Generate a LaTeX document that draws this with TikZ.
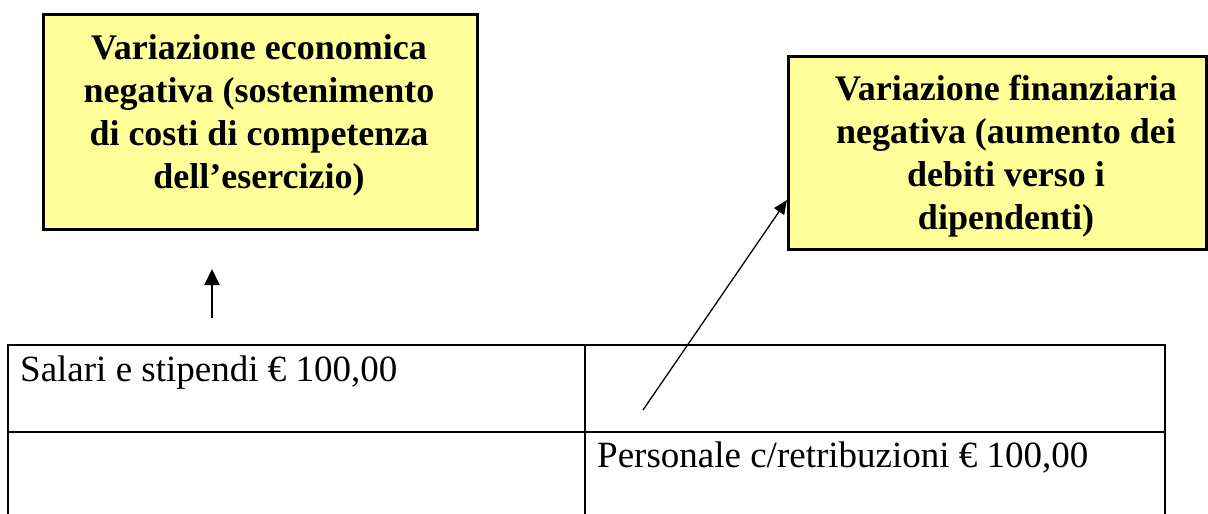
\documentclass[tikz,border=0pt]{standalone}
\usepackage{fontspec}
\setmainfont{Liberation Serif}
\usetikzlibrary{arrows.meta}
\definecolor{boxyellow}{RGB}{255,255,153}
\begin{document}
\begin{tikzpicture}[x=1pt,y=-1pt,
  varbox/.style={draw=black, line width=2.6pt, fill=boxyellow, inner sep=0pt, anchor=north west},
  vartext/.style={font=\bfseries\fontsize{36}{43}\selectfont, align=center, inner sep=0pt, anchor=north},
  celltext/.style={font=\fontsize{37}{44}\selectfont, inner sep=0pt, anchor=base west},
  tableline/.style={line width=2pt},
  conn/.style={line width=2pt, -{Triangle[length=16pt,width=15pt]}},
  conndiag/.style={line width=1.3pt, -{Triangle[length=14pt,width=12pt]}}
]
\useasboundingbox (0,0) rectangle (1208,514);
% yellow boxes
\node[varbox, minimum width=434pt, minimum height=215pt] (econ) at (42,13) {};
\node[vartext] (econtext) at (259,34) {Variazione economica\\negativa (sostenimento\\di costi di competenza\\dell’esercizio)};
\node[varbox, minimum width=418pt, minimum height=193pt] (fin) at (787,55) {};
\node[vartext] (fintext) at (1006,75) {Variazione finanziaria\\negativa (aumento dei\\debiti verso i\\dipendenti)};
% table
\draw[tableline] (8,514) -- (8,345) -- (1165,345) -- (1165,514);
\draw[tableline] (8,432) -- (1165,432);
\draw[tableline] (585,345) -- (585,514);
\node[celltext] (salari) at (20,381) {Salari e stipendi € 100,00};
\node[celltext] (personale) at (597,467) {Personale c/retribuzioni € 100,00};
% arrows
\coordinate (upfrom) at (212,318);
\coordinate (upto) at (212,269);
\draw[conn] (upfrom) -- (upto);
\coordinate (diagfrom) at (643,410);
\coordinate (finhit) at ([yshift=-145pt]fin.north west);
\draw[conndiag] (diagfrom) -- (finhit);
\end{tikzpicture}
\end{document}
